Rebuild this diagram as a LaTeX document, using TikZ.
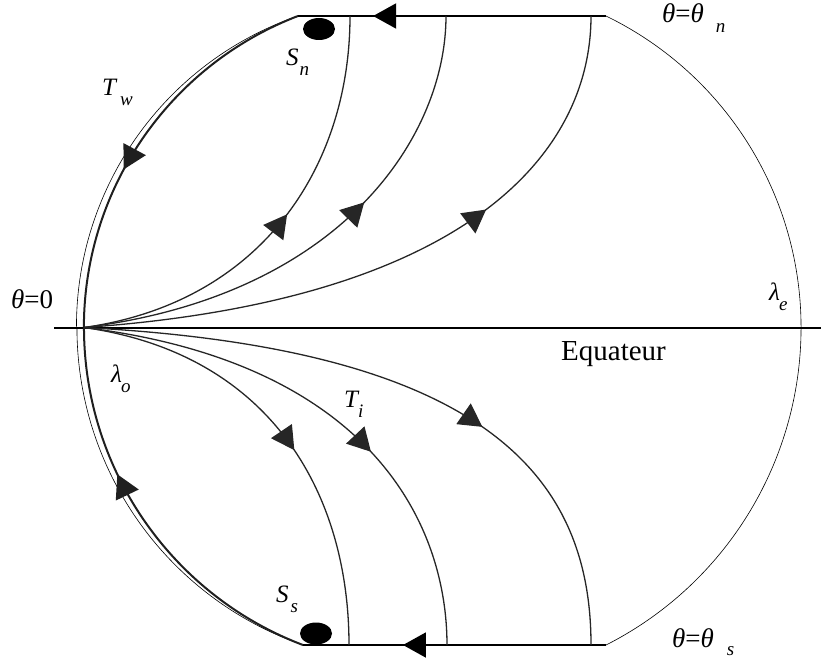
\documentclass[tikz,border=0pt]{standalone}
\usepackage{fontspec}
\setmainfont{Liberation Serif}
\usetikzlibrary{arrows.meta,decorations.markings,shapes.geometric}
\newcommand\mysub[3][10pt]{\kern#2\raisebox{-#1}{\fontsize{19}{19}\selectfont\itshape #3}}
\tikzset{
  flow/.style={line width=1.3pt, draw=black!85},
  heavy/.style={line width=2pt},
  wall/.style={line width=2pt, draw=black!88},
  hair/.style={line width=0.6pt},
  midarrow/.style={postaction={decorate,decoration={markings,
      mark=at position #1 with {\arrow{Triangle[length=23pt,width=25pt]}}}}},
  lab/.style={inner sep=0pt, anchor=base west, font=\fontsize{25}{25}\selectfont\itshape},
  biglab/.style={inner sep=0pt, anchor=base west, font=\fontsize{27}{27}\selectfont},
  blob/.style={ellipse, fill=black, inner sep=0pt, minimum width=32pt, minimum height=22pt}
}
\begin{document}
\begin{tikzpicture}[x=1pt,y=-1pt]
\useasboundingbox (0,0) rectangle (821,661);
% key points
\coordinate (O) at (84,327.5);
\coordinate (EqL) at (54,327.5);
\coordinate (EqR) at (821,327.5);
\coordinate (TL) at (298,16);
\coordinate (TR) at (606,16);
\coordinate (BL) at (303,645);
\coordinate (BR) at (606,645);
\coordinate (E1) at (350,16);
\coordinate (E2) at (446,16);
\coordinate (E3) at (591,16);
\coordinate (F1) at (349,645);
\coordinate (F2) at (447,645);
\coordinate (F3) at (591,645);
% equator
\draw[heavy] (EqL) -- (EqR);
% outer right boundary
\draw[hair] (TR) arc[start angle=64.1, end angle=0, radius=346.3pt]
               arc[start angle=0, end angle=-63.1, radius=356pt];
% left boundary (double)
\draw[hair] (TL) arc[start angle=109.0, end angle=180, radius=328.5pt];
\draw[hair] (BL) arc[start angle=250.9, end angle=180, radius=336pt];
\draw[wall, midarrow=0.59] (TL) arc[start angle=111.0, end angle=180, radius=333.7pt];
\draw[wall, midarrow=0.63] (BL) arc[start angle=249.2, end angle=180, radius=339.6pt];
% top and bottom lines
\draw[heavy, midarrow=0.756] (TR) -- (TL);
\draw[heavy, midarrow=0.67] (BR) -- (BL);
% northern trajectories
\draw[flow, midarrow=0.53] (O) .. controls (262.2,302.4) and (350,166) .. (E1);
\draw[flow, midarrow=0.60] (O) .. controls (342.1,295.8) and (446,136) .. (E2);
\draw[flow, midarrow=0.65] (O) .. controls (463.1,301.0) and (591,156) .. (E3);
% southern trajectories
\draw[flow, midarrow=0.55] (O) .. controls (272.2,354.0) and (349,495) .. (F1);
\draw[flow, midarrow=0.60] (O) .. controls (371.9,362.8) and (447,525) .. (F2);
\draw[flow, midarrow=0.62] (O) .. controls (483.5,348.4) and (591,475) .. (F3);
% sources
\node[blob] (Sndot) at (319,29) {};
\node[blob] (Ssdot) at (316,633.5) {};
% labels
\node[biglab] (th0) at (11,308) {\textit{θ}=0};
\node[biglab] (thn) at (662,23) {\textit{θ}=\textit{θ}\mysub{12pt}{n}};
\node[biglab] (ths) at (672,647) {\textit{θ}=\textit{θ}\mysub[8pt]{13pt}{s}};
\node[biglab, font=\fontsize{29}{29}\selectfont] (eq) at (561,360) {Equateur};
\node[lab] (Tw) at (102,95) {T\mysub{4pt}{w}};
\node[lab] (Sn) at (286,65) {S\mysub{1pt}{n}};
\node[lab] (Ss) at (276,602) {S\mysub{2pt}{s}};
\node[lab] (Ti) at (344,407) {T\mysub{0pt}{i}};
\node[lab] (le) at (769,300) {λ\mysub{-1pt}{e}};
\node[lab] (lo) at (111,382) {λ\mysub{-1pt}{o}};
\end{tikzpicture}
\end{document}
